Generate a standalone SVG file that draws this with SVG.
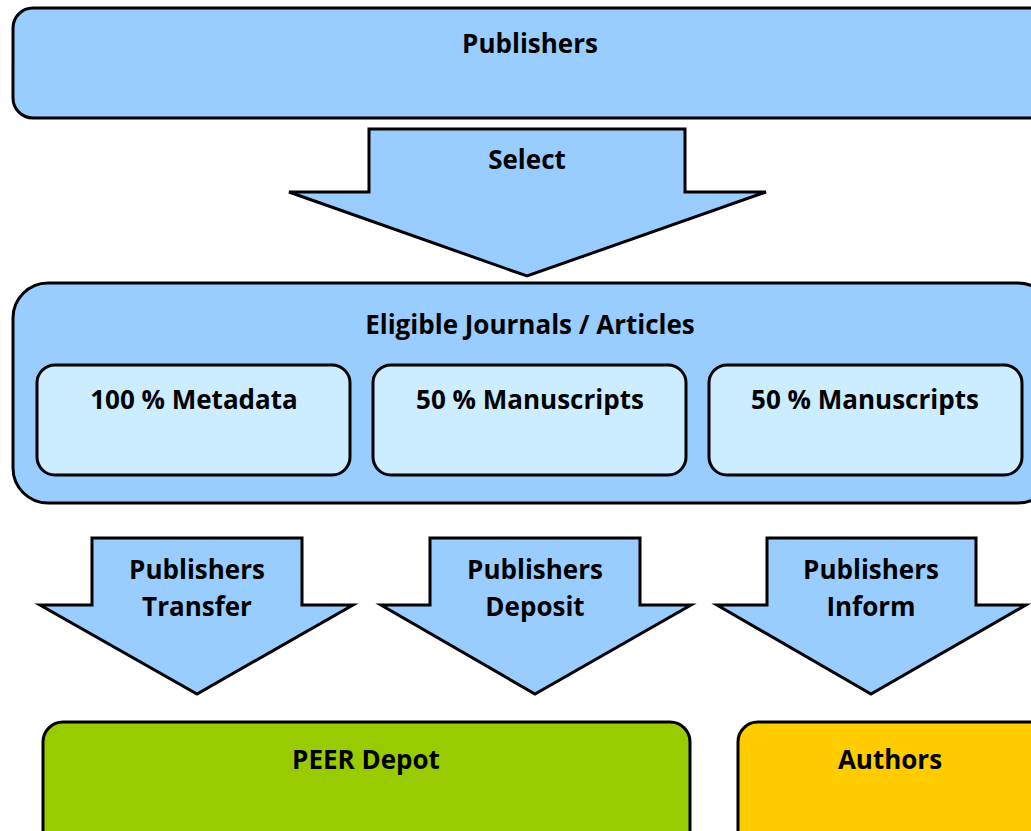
<svg xmlns="http://www.w3.org/2000/svg" width="1031" height="831" viewBox="0 0 1031 831">
<style>
.box{stroke:#000;stroke-width:3}
.blue{fill:#99CCFF}
.inner{fill:#CCECFF}
.arrow{fill:#99CCFF;stroke:#000;stroke-width:3;stroke-linejoin:miter}
text{font-family:"Open Sans","Liberation Sans",sans-serif;font-weight:bold;font-size:26px;fill:#000;text-anchor:middle}
</style>
<rect width="1031" height="831" fill="#fff"/>
<g id="publishers">
<rect class="box blue" x="13" y="8" width="1040" height="110" rx="20"/>
<text x="530" y="53">Publishers</text>
</g>
<g id="eligible">
<rect class="box blue" x="13" y="283" width="1040" height="220" rx="35"/>
<text x="530" y="334">Eligible Journals / Articles</text>
</g>
<g id="metadata">
<rect class="box inner" x="37" y="365" width="313" height="110" rx="18"/>
<text x="194" y="409">100 % Metadata</text>
</g>
<g id="manuscripts1">
<rect class="box inner" x="373" y="365" width="313" height="110" rx="18"/>
<text x="530" y="409">50 % Manuscripts</text>
</g>
<g id="manuscripts2">
<rect class="box inner" x="709" y="365" width="313" height="110" rx="18"/>
<text x="865" y="409">50 % Manuscripts</text>
</g>
<g id="peer">
<rect class="box" fill="#99CC00" x="43" y="722" width="647" height="130" rx="20"/>
<text x="366" y="769">PEER Depot</text>
</g>
<g id="authors">
<rect class="box" fill="#FFCC00" x="738" y="722" width="320" height="130" rx="20"/>
<text x="890" y="769">Authors</text>
</g>
<g id="connectors">
<g id="select">
<polygon class="arrow" points="369,129 685,129 685,192 766,192 527,276 289,192 369,192"/>
<text x="527" y="169">Select</text>
</g>
<g id="transfer">
<polygon class="arrow" points="92,538 302,538 302,605 353,605 197,694 40,605 92,605"/>
<text x="197" y="579">Publishers</text>
<text x="197" y="616">Transfer</text>
</g>
<g id="deposit">
<polygon class="arrow" points="430,538 640,538 640,605 691,605 535,694 381,605 430,605"/>
<text x="535" y="579">Publishers</text>
<text x="535" y="616">Deposit</text>
</g>
<g id="inform">
<polygon class="arrow" points="767,538 976,538 976,605 1026,605 871,694 717,605 767,605"/>
<text x="871" y="579">Publishers</text>
<text x="871" y="616">Inform</text>
</g>
</g>
</svg>
